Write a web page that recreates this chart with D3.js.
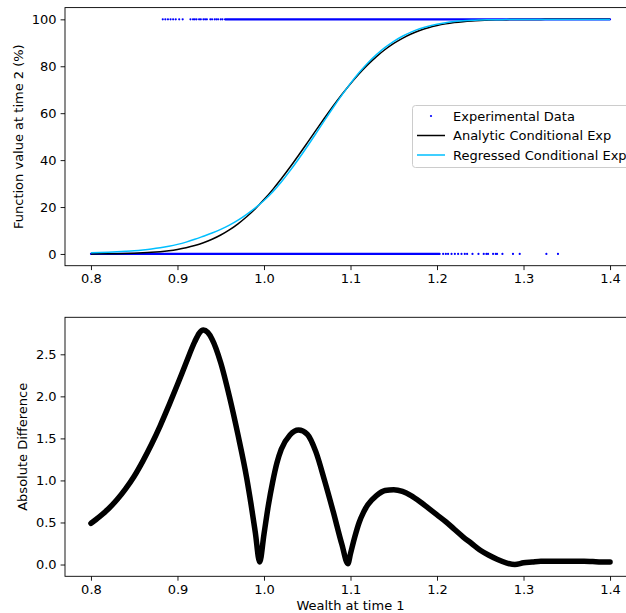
<!DOCTYPE html>
<html>
<head>
<meta charset="utf-8">
<script src="https://cdn.jsdelivr.net/npm/d3@7"></script>
<style>
  html, body { margin: 0; padding: 0; background: #fff; }
  svg { display: block; font-family: "DejaVu Sans", sans-serif; }
</style>
</head>
<body>
<svg id="chart" width="626" height="613"></svg>
<script>
// Wealth grid for the conditional expectation curves
const wealth = [
  0.80, 0.81, 0.82, 0.83, 0.84, 0.85, 0.86, 0.87, 0.88, 0.89,
  0.90, 0.91, 0.92, 0.93, 0.94, 0.95, 0.96, 0.97, 0.98, 0.99,
  1.00, 1.01, 1.02, 1.03, 1.04, 1.05, 1.06, 1.07, 1.08, 1.09,
  1.10, 1.11, 1.12, 1.13, 1.14, 1.15, 1.16, 1.17, 1.18, 1.19,
  1.20, 1.21, 1.22, 1.23, 1.24, 1.25, 1.26, 1.27, 1.28, 1.29,
  1.30, 1.31, 1.32, 1.33, 1.34, 1.35, 1.36, 1.37, 1.38, 1.39, 1.40
];
// Analytic conditional expectation (%)
const analytic = [
  0.03, 0.05, 0.09, 0.13, 0.21, 0.31, 0.47, 0.68, 0.98, 1.39,
  1.94, 2.66, 3.59, 4.78, 6.26, 8.08, 10.26, 12.86, 15.87, 19.30,
  23.17, 27.43, 32.04, 36.94, 42.07, 47.34, 52.66, 57.93, 63.06, 67.96,
  72.57, 76.83, 80.70, 84.13, 87.14, 89.74, 91.92, 93.74, 95.22, 96.41,
  97.34, 98.06, 98.61, 99.02, 99.32, 99.53, 99.69, 99.79, 99.87, 99.91,
  99.95, 99.97, 99.98, 99.99, 100.0, 100.0, 100.0, 100.0, 100.0, 100.0, 100.0
];
// Regressed conditional expectation (%)
const regressed = [
  0.52, 0.62, 0.75, 0.90, 1.11, 1.36, 1.70, 2.11, 2.63, 3.28,
  4.08, 5.06, 6.24, 7.57, 8.94, 10.48, 12.26, 14.40, 16.90, 19.68,
  22.81, 26.45, 30.67, 35.40, 40.47, 45.79, 51.32, 56.93, 62.43, 67.72,
  72.70, 77.33, 81.41, 84.95, 88.02, 90.63, 92.79, 94.56, 95.97, 97.08,
  97.93, 98.57, 99.03, 99.35, 99.57, 99.70, 99.80, 99.85, 99.89, 99.91,
  99.93, 99.94, 99.94, 99.95, 99.96, 99.96, 99.96, 99.96, 99.965, 99.97, 99.97
];

// Absolute difference between the two curves
const diffWealth = [
  0.80, 0.81, 0.82, 0.83, 0.84, 0.85, 0.86, 0.87, 0.88, 0.89,
  0.90, 0.91, 0.92, 0.925, 0.93, 0.935, 0.94, 0.95, 0.96, 0.97,
  0.98, 0.985, 0.99, 0.995, 1.00, 1.005, 1.01, 1.015, 1.02, 1.03,
  1.04, 1.05, 1.06, 1.07, 1.08, 1.09, 1.097, 1.10, 1.105, 1.11,
  1.115, 1.12, 1.13, 1.14, 1.15, 1.16, 1.17, 1.18, 1.19, 1.20,
  1.21, 1.22, 1.23, 1.24, 1.25, 1.26, 1.27, 1.28, 1.29, 1.30,
  1.31, 1.32, 1.33, 1.34, 1.35, 1.36, 1.37, 1.38, 1.39, 1.40
];
const absDiff = [
  0.49, 0.57, 0.66, 0.77, 0.90, 1.05, 1.23, 1.43, 1.65, 1.89,
  2.14, 2.40, 2.65, 2.75, 2.79, 2.76, 2.68, 2.40, 2.00, 1.54,
  1.03, 0.72, 0.38, 0.03, 0.36, 0.70, 0.98, 1.21, 1.37, 1.54,
  1.60, 1.55, 1.34, 1.00, 0.63, 0.24, 0.01, 0.13, 0.33, 0.50,
  0.62, 0.71, 0.82, 0.88, 0.89, 0.87, 0.82, 0.75, 0.67, 0.59,
  0.51, 0.42, 0.33, 0.25, 0.17, 0.11, 0.06, 0.02, 0.00, 0.02,
  0.03, 0.04, 0.04, 0.04, 0.04, 0.04, 0.04, 0.035, 0.03, 0.03
];

// Experimental payoffs: runs of samples too dense to separate, and isolated samples
const payoffHighRuns = [[0.955, 1.40]];
const payoffHighPoints = [
  0.883, 0.886, 0.889, 0.892, 0.895, 0.898, 0.902, 0.906,
  0.915, 0.918, 0.920, 0.922, 0.925, 0.927, 0.930, 0.932, 0.934,
  0.938, 0.940, 0.943, 0.945, 0.947, 0.950, 0.952
];
const payoffLowRuns = [[0.80, 1.203]];
const payoffLowPoints = [
  1.2071, 1.2102, 1.2128, 1.2168, 1.2206, 1.2244, 1.2283, 1.2321, 1.2348,
  1.2410, 1.2479, 1.2540, 1.2571, 1.2590, 1.2648, 1.2679, 1.2694, 1.2756,
  1.2878, 1.2956, 1.3264, 1.3398
];

const xTicks = [0.8, 0.9, 1.0, 1.1, 1.2, 1.3, 1.4];
const yTopTicks = [0, 20, 40, 60, 80, 100];
const yBotTicks = [0.0, 0.5, 1.0, 1.5, 2.0, 2.5];
const legendLabels = ["Experimental Data", "Analytic Conditional Exp", "Regressed Conditional Exp"];

const svg = d3.select("#chart");
const FS = 13;
const left = 65, right = 636;
const top1 = 7.6, bot1 = 265.7;
const top2 = 317.3, bot2 = 576.3;

const x = d3.scaleLinear().domain([0.77, 1.43]).range([left, right]);
const yTop = d3.scaleLinear().domain([-5, 105]).range([bot1, top1]);
const yBot = d3.scaleLinear().domain([-0.14, 2.94]).range([bot2, top2]);

function styleAxis(g) {
  g.select(".domain").remove();
  g.selectAll(".tick line").attr("stroke", "#000").attr("stroke-width", 0.9);
  g.selectAll(".tick text").attr("fill", "#000").style("font-size", FS + "px")
    .style("font-family", "'DejaVu Sans', sans-serif");
}

function frame(t, b) {
  svg.append("rect")
    .attr("x", left).attr("y", t)
    .attr("width", right - left).attr("height", b - t)
    .attr("fill", "none").attr("stroke", "#000").attr("stroke-width", 0.9);
}

// ---------- Top panel ----------
const gTop = svg.append("g");
svg.append("clipPath").attr("id", "clipTop")
  .append("rect").attr("x", left).attr("y", top1).attr("width", right - left).attr("height", bot1 - top1);

const marks = gTop.append("g").attr("clip-path", "url(#clipTop)");
const blue = "#0000ff";

// dense runs of samples
marks.selectAll("line.high").data(payoffHighRuns).join("line")
  .attr("x1", d => x(d[0])).attr("x2", d => x(d[1]))
  .attr("y1", yTop(100)).attr("y2", yTop(100))
  .attr("stroke", blue).attr("stroke-width", 2.2).attr("stroke-linecap", "round");
marks.selectAll("line.low").data(payoffLowRuns).join("line")
  .attr("x1", d => x(d[0])).attr("x2", d => x(d[1]))
  .attr("y1", yTop(0)).attr("y2", yTop(0))
  .attr("stroke", blue).attr("stroke-width", 2.2).attr("stroke-linecap", "round");
// isolated samples
marks.selectAll("circle.high").data(payoffHighPoints).join("circle")
  .attr("cx", d => x(d)).attr("cy", yTop(100)).attr("r", 1.1).attr("fill", blue);
marks.selectAll("circle.low").data(payoffLowPoints).join("circle")
  .attr("cx", d => x(d)).attr("cy", yTop(0)).attr("r", 1.1).attr("fill", blue);

const lineTop = (vals) => d3.line()
  .x((d, i) => x(wealth[i])).y(d => yTop(d))
  .curve(d3.curveMonotoneX)(vals);

marks.append("path").attr("d", lineTop(analytic))
  .attr("fill", "none").attr("stroke", "#000").attr("stroke-width", 1.5);
marks.append("path").attr("d", lineTop(regressed))
  .attr("fill", "none").attr("stroke", "#00bfff").attr("stroke-width", 1.5);

frame(top1, bot1);

gTop.append("g").attr("transform", `translate(0,${bot1})`)
  .call(d3.axisBottom(x).tickValues(xTicks).tickFormat(d3.format(".1f")).tickSize(4.4).tickPadding(4))
  .call(styleAxis);
gTop.append("g").attr("transform", `translate(${left},0)`)
  .call(d3.axisLeft(yTop).tickValues(yTopTicks).tickFormat(d3.format("d")).tickSize(4.4).tickPadding(4))
  .call(styleAxis);

svg.append("text")
  .attr("transform", `translate(22.5,${(top1 + bot1) / 2}) rotate(-90)`)
  .attr("text-anchor", "middle").attr("fill", "#000")
  .style("font-size", FS + "px")
  .text("Function value at time 2 (%)");

// Legend
const lg = svg.append("g");
lg.append("rect").attr("x", 412.5).attr("y", 105.5).attr("width", 240).attr("height", 62)
  .attr("rx", 3).attr("fill", "#fff").attr("fill-opacity", 0.8)
  .attr("stroke", "#cccccc").attr("stroke-width", 1);
const rowY = [116, 135.5, 155];
lg.append("circle").attr("cx", 431).attr("cy", rowY[0]).attr("r", 1.1).attr("fill", blue);
lg.append("line").attr("x1", 417).attr("x2", 445).attr("y1", rowY[1]).attr("y2", rowY[1])
  .attr("stroke", "#000").attr("stroke-width", 1.5);
lg.append("line").attr("x1", 417).attr("x2", 445).attr("y1", rowY[2]).attr("y2", rowY[2])
  .attr("stroke", "#00bfff").attr("stroke-width", 1.5);
lg.selectAll("text").data(legendLabels).join("text")
  .attr("x", 453).attr("y", (d, i) => rowY[i]).attr("dy", "0.35em")
  .attr("fill", "#000").style("font-size", FS + "px")
  .text(d => d);

// ---------- Bottom panel ----------
const gBot = svg.append("g");
svg.append("clipPath").attr("id", "clipBot")
  .append("rect").attr("x", left).attr("y", top2).attr("width", right - left).attr("height", bot2 - top2);

gBot.append("g").attr("clip-path", "url(#clipBot)")
  .append("path")
  .attr("d", d3.line()
    .x((d, i) => x(diffWealth[i])).y(d => yBot(d))
    .curve(d3.curveMonotoneX)(absDiff))
  .attr("fill", "none").attr("stroke", "#000").attr("stroke-width", 5.5)
  .attr("stroke-linecap", "round").attr("stroke-linejoin", "round");

frame(top2, bot2);

gBot.append("g").attr("transform", `translate(0,${bot2})`)
  .call(d3.axisBottom(x).tickValues(xTicks).tickFormat(d3.format(".1f")).tickSize(4.4).tickPadding(4))
  .call(styleAxis);
gBot.append("g").attr("transform", `translate(${left},0)`)
  .call(d3.axisLeft(yBot).tickValues(yBotTicks).tickFormat(d3.format(".1f")).tickSize(4.4).tickPadding(4))
  .call(styleAxis);

svg.append("text")
  .attr("transform", `translate(27,${(top2 + bot2) / 2}) rotate(-90)`)
  .attr("text-anchor", "middle").attr("fill", "#000")
  .style("font-size", FS + "px")
  .text("Absolute Difference");

svg.append("text")
  .attr("x", (left + right) / 2).attr("y", 610)
  .attr("text-anchor", "middle").attr("fill", "#000")
  .style("font-size", FS + "px")
  .text("Wealth at time 1");
</script>
</body>
</html>
